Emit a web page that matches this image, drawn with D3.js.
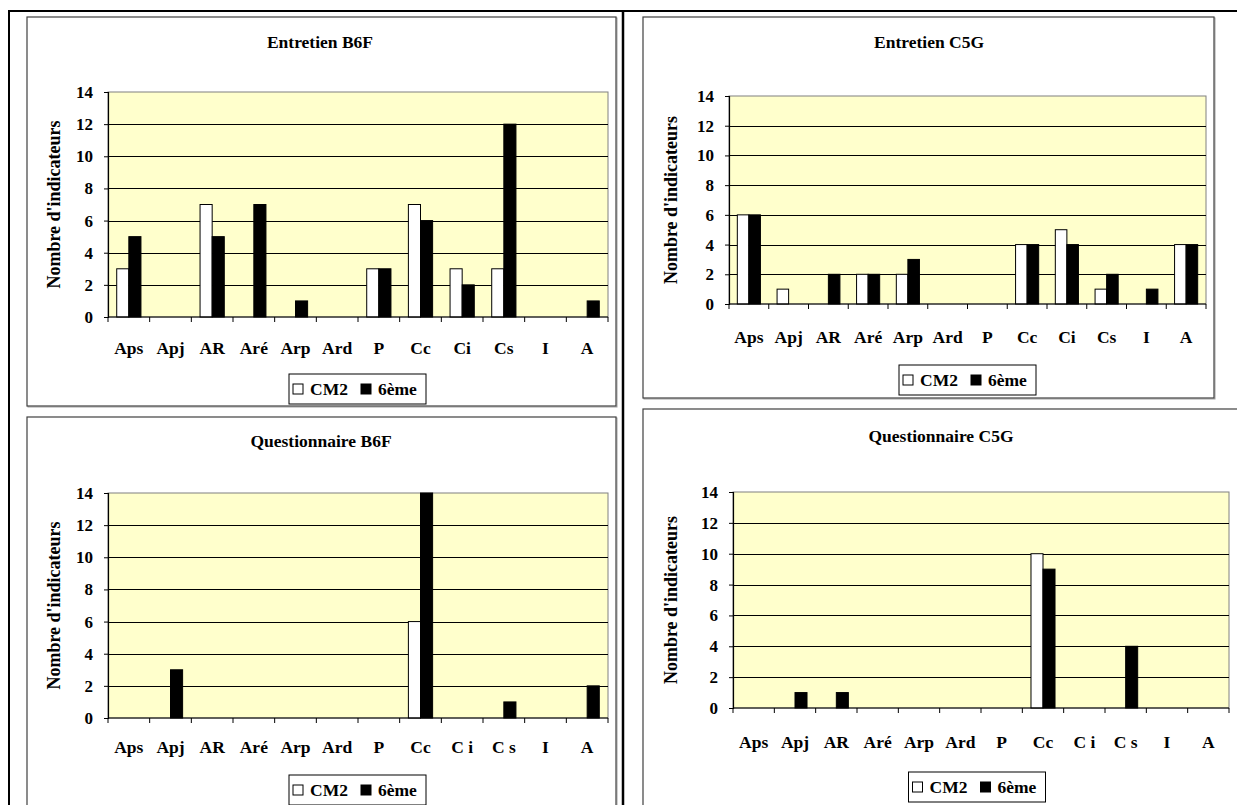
<!DOCTYPE html>
<html>
<head>
<meta charset="utf-8">
<script src="https://cdn.jsdelivr.net/npm/d3@7/dist/d3.min.js"></script>
<style>
  html, body { margin: 0; padding: 0; background: #ffffff; }
  svg { display: block; }
  text { font-family: "Liberation Serif", "Times New Roman", serif; font-weight: bold; fill: #000; }
</style>
</head>
<body>
<svg id="chart" width="1237" height="805"></svg>
<script>
// ---------- DATA ----------
const categoriesEntretien = ["Aps", "Apj", "AR", "Aré", "Arp", "Ard", "P", "Cc", "Ci", "Cs", "I", "A"];
const categoriesQuestionnaire = ["Aps", "Apj", "AR", "Aré", "Arp", "Ard", "P", "Cc", "C i", "C s", "I", "A"];
const seriesNames = ["CM2", "6ème"];
const yTickValues = [0, 2, 4, 6, 8, 10, 12, 14];
const yAxisTitle = "Nombre d'indicateurs";

const entretienB6F_CM2  = [3, 0, 7, 0, 0, 0, 3, 7, 3, 3, 0, 0];
const entretienB6F_6eme = [5, 0, 5, 7, 1, 0, 3, 6, 2, 12, 0, 1];

const entretienC5G_CM2  = [6, 1, 0, 2, 2, 0, 0, 4, 5, 1, 0, 4];
const entretienC5G_6eme = [6, 0, 2, 2, 3, 0, 0, 4, 4, 2, 1, 4];

const questionnaireB6F_CM2  = [0, 0, 0, 0, 0, 0, 0, 6, 0, 0, 0, 0];
const questionnaireB6F_6eme = [0, 3, 0, 0, 0, 0, 0, 14, 0, 1, 0, 2];

const questionnaireC5G_CM2  = [0, 0, 0, 0, 0, 0, 0, 10, 0, 0, 0, 0];
const questionnaireC5G_6eme = [0, 1, 1, 0, 0, 0, 0, 9, 0, 4, 0, 0];

const seriesFill = ["#ffffff", "#000000"];

// ---------- LAYOUT ----------
const panels = [
  { title: "Entretien B6F", cats: categoriesEntretien, values: [entretienB6F_CM2, entretienB6F_6eme],
    box: [27, 17, 616, 406], plot: [108, 92, 608, 317], titleX: 320, titleY: 48, yTitleX: 54, labelGap: 37,
    legendCX: 357.5, legendY: 374 },
  { title: "Entretien C5G", cats: categoriesEntretien, values: [entretienC5G_CM2, entretienC5G_6eme],
    box: [643, 17, 1214, 398], plot: [729, 96, 1206, 304], titleX: 929, titleY: 48, yTitleX: 671, labelGap: 39,
    legendCX: 967.5, legendY: 365 },
  { title: "Questionnaire B6F", cats: categoriesQuestionnaire, values: [questionnaireB6F_CM2, questionnaireB6F_6eme],
    box: [27, 417, 616, 830], plot: [108, 493, 608, 718], titleX: 321, titleY: 447, yTitleX: 54, labelGap: 35,
    legendCX: 357.5, legendY: 775 },
  { title: "Questionnaire C5G", cats: categoriesQuestionnaire, values: [questionnaireC5G_CM2, questionnaireC5G_6eme],
    box: [643, 409, 1260, 830], plot: [733, 492, 1229, 708], titleX: 941, titleY: 442, yTitleX: 671, labelGap: 40,
    legendCX: 977, legendY: 772 }
];

const svg = d3.select("#chart");

// outer table frame
const frame = svg.append("g");
frame.append("line").attr("x1", 8).attr("x2", 1237).attr("y1", 11).attr("y2", 11)
  .attr("stroke", "#000").attr("stroke-width", 2);
frame.append("line").attr("x1", 9).attr("x2", 9).attr("y1", 10).attr("y2", 805)
  .attr("stroke", "#000").attr("stroke-width", 2);
frame.append("line").attr("x1", 623).attr("x2", 623).attr("y1", 10).attr("y2", 805)
  .attr("stroke", "#000").attr("stroke-width", 2.5);

panels.forEach(p => {
  const g = svg.append("g");
  const [bx0, by0, bx1, by1] = p.box;
  const [px0, py0, px1, py1] = p.plot;

  // chart box with slight shadow
  g.append("rect").attr("x", bx0 + 1).attr("y", by0 + 1).attr("width", bx1 - bx0).attr("height", by1 - by0)
    .attr("fill", "none").attr("stroke", "#a0a0a0").attr("stroke-width", 1);
  g.append("rect").attr("x", bx0).attr("y", by0).attr("width", bx1 - bx0).attr("height", by1 - by0)
    .attr("fill", "#fff").attr("stroke", "#404040").attr("stroke-width", 1.2);

  // title
  g.append("text").attr("x", p.titleX).attr("y", p.titleY).attr("text-anchor", "middle")
    .style("font-size", "17.5px").text(p.title);

  const x0 = d3.scaleBand().domain(p.cats).range([px0, px1]).paddingInner(0).paddingOuter(0);
  const x1 = d3.scaleBand().domain(seriesNames).range([0, x0.bandwidth()]).paddingInner(0).paddingOuter(0.72);
  const y = d3.scaleLinear().domain([0, 14]).range([py1, py0]);

  // plot area
  g.append("rect").attr("x", px0).attr("y", py0).attr("width", px1 - px0).attr("height", py1 - py0)
    .attr("fill", "#FFFFCC").attr("stroke", "#808080").attr("stroke-width", 1);

  // gridlines
  g.append("g").selectAll("line").data(yTickValues.filter(v => v > 0 && v < 14)).join("line")
    .attr("x1", px0).attr("x2", px1)
    .attr("y1", d => Math.round(y(d)) + 0.5).attr("y2", d => Math.round(y(d)) + 0.5)
    .attr("stroke", "#000").attr("stroke-width", 1);

  // bars
  const rows = [];
  p.cats.forEach((c, i) => {
    seriesNames.forEach((s, j) => {
      rows.push({ cat: c, series: s, value: p.values[j][i], fill: seriesFill[j] });
    });
  });
  g.append("g").selectAll("rect").data(rows.filter(d => d.value > 0)).join("rect")
    .attr("x", d => x0(d.cat) + x1(d.series))
    .attr("y", d => y(d.value))
    .attr("width", x1.bandwidth())
    .attr("height", d => y(0) - y(d.value))
    .attr("fill", d => d.fill)
    .attr("stroke", "#000").attr("stroke-width", 1);

  // y axis
  const yAxis = d3.axisLeft(y).tickValues(yTickValues).tickSize(4).tickPadding(11).tickFormat(d3.format("d"));
  const ya = g.append("g").attr("transform", `translate(${px0},0)`).call(yAxis);
  ya.select(".domain").attr("stroke", "#000").attr("stroke-width", 1.2);
  ya.selectAll(".tick line").attr("stroke", "#000");
  ya.selectAll(".tick text").style("font-size", "17px").style("font-family", "Liberation Serif").style("font-weight", "bold");

  // x axis line
  g.append("line").attr("x1", px0).attr("x2", px1).attr("y1", py1).attr("y2", py1)
    .attr("stroke", "#000").attr("stroke-width", 1.2);
  // boundary ticks
  const bounds = p.cats.map(c => x0(c)).concat([px1]);
  g.append("g").selectAll("line").data(bounds).join("line")
    .attr("x1", d => d).attr("x2", d => d).attr("y1", py1).attr("y2", py1 + 5)
    .attr("stroke", "#000").attr("stroke-width", 1);

  // category labels
  g.append("g").selectAll("text").data(p.cats).join("text")
    .attr("x", d => x0(d) + x0.bandwidth() / 2)
    .attr("y", py1 + p.labelGap)
    .attr("text-anchor", "middle")
    .style("font-size", "17.5px")
    .text(d => d);

  // y axis title
  g.append("text")
    .attr("transform", `translate(${p.yTitleX},${(py0 + py1) / 2}) rotate(-90)`)
    .attr("text-anchor", "middle").attr("dy", "0.35em")
    .style("font-size", "18px")
    .text(yAxisTitle);

  // legend
  const lw = 137, lh = 30;
  const lx = p.legendCX - lw / 2, ly = p.legendY;
  const lg = g.append("g").attr("transform", `translate(${lx},${ly})`);
  lg.append("rect").attr("width", lw).attr("height", lh).attr("fill", "#fff")
    .attr("stroke", "#000").attr("stroke-width", 1);
  const legendOffsets = [4, 72];
  seriesNames.forEach((s, j) => {
    lg.append("rect").attr("x", legendOffsets[j]).attr("y", lh / 2 - 5).attr("width", 10).attr("height", 10)
      .attr("fill", seriesFill[j]).attr("stroke", "#000").attr("stroke-width", 1);
    lg.append("text").attr("x", legendOffsets[j] + 17).attr("y", lh / 2 + 6)
      .style("font-size", "17.5px").text(s);
  });
});
</script>
</body>
</html>
